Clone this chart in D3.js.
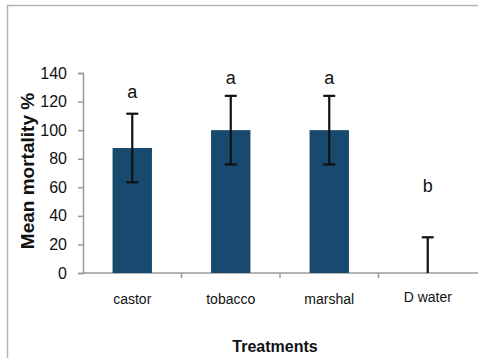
<!DOCTYPE html>
<html>
<head>
<meta charset="utf-8">
<script src="https://cdn.jsdelivr.net/npm/d3@7"></script>
<style>
  html, body { margin: 0; padding: 0; background: #fff; }
  svg { display: block; }
</style>
</head>
<body>
<svg id="chart" width="478" height="358"></svg>
<script>
// Mean mortality per treatment, with standard error and significance letters
const categories = ["castor", "tobacco", "marshal", "D water"];
const means = [87.5, 100, 100, 0];
const errors = [24, 24, 24, 25];
const letters = ["a", "a", "a", "b"];
const letterLevels = [122.5, 132.5, 132.5, 56.5];
const yTicks = [0, 20, 40, 60, 80, 100, 120, 140];

const svg = d3.select("#chart");
const W = 478, H = 358;
const margin = { left: 83, right: 1, top: 73, bottom: 85 };

// outer frame
svg.append("path")
  .attr("d", `M7.5,${H} V5.5 H${W}`)
  .attr("fill", "none").attr("stroke", "#b4b4b4").attr("stroke-width", 1.5);

const x = d3.scaleBand()
  .domain(categories)
  .range([margin.left, W - margin.right])
  .paddingInner(0.6).paddingOuter(0.3);

const y = d3.scaleLinear().domain([0, 140]).range([H - margin.bottom, margin.top]);

const axisColor = "#9a9a9a";
const font = "'Liberation Sans', Arial, sans-serif";

// y axis
const yAxis = svg.append("g")
  .attr("transform", `translate(${margin.left},0)`)
  .call(d3.axisLeft(y).tickValues(yTicks).tickSize(5).tickPadding(11).tickFormat(d3.format("d")));
yAxis.select(".domain").attr("stroke", axisColor).attr("stroke-width", 1.5);
yAxis.selectAll(".tick line").attr("stroke", axisColor).attr("stroke-width", 1.5);
yAxis.selectAll(".tick text")
  .attr("font-family", font).attr("font-size", 16).attr("fill", "#111");

// x axis: ticks at category boundaries
const x0 = margin.left;
svg.append("line")
  .attr("x1", x0).attr("x2", W)
  .attr("y1", y(0)).attr("y2", y(0))
  .attr("stroke", axisColor).attr("stroke-width", 1.5);
const bounds = d3.range(1, categories.length).map(i => x0 + (W - margin.right - x0) * i / categories.length);
svg.selectAll(".xtick").data(bounds).join("line")
  .attr("x1", d => d).attr("x2", d => d)
  .attr("y1", y(0)).attr("y2", y(0) + 5)
  .attr("stroke", axisColor).attr("stroke-width", 1.5);

// category labels
svg.selectAll(".cat").data(categories).join("text")
  .attr("x", d => x(d) + x.bandwidth() / 2)
  .attr("y", (d, i) => i === 3 ? 302 : 304)
  .attr("text-anchor", "middle")
  .attr("font-family", font).attr("font-size", 14).attr("fill", "#111")
  .text(d => d);

// bars
const barColor = "#174a6e";
svg.selectAll(".bar").data(means).join("rect")
  .attr("x", (d, i) => x(categories[i]))
  .attr("width", x.bandwidth())
  .attr("y", d => y(d))
  .attr("height", d => y(0) - y(d))
  .attr("fill", barColor);

// error bars
const eb = svg.selectAll(".err").data(means).join("g")
  .attr("transform", (d, i) => `translate(${x(categories[i]) + x.bandwidth() / 2},0)`);
eb.append("line")
  .attr("x1", 0).attr("x2", 0)
  .attr("y1", (d, i) => y(d + errors[i]))
  .attr("y2", (d, i) => y(Math.max(0, d - errors[i])))
  .attr("stroke", "#111").attr("stroke-width", 2.2);
eb.append("line")
  .attr("x1", -6).attr("x2", 6)
  .attr("y1", (d, i) => y(d + errors[i])).attr("y2", (d, i) => y(d + errors[i]))
  .attr("stroke", "#111").attr("stroke-width", 2.2);
eb.filter(d => d > 0).append("line")
  .attr("x1", -6).attr("x2", 6)
  .attr("y1", (d, i) => y(d - errors[i])).attr("y2", (d, i) => y(d - errors[i]))
  .attr("stroke", "#111").attr("stroke-width", 2.2);

// significance letters
svg.selectAll(".letter").data(letters).join("text")
  .attr("x", (d, i) => x(categories[i]) + x.bandwidth() / 2)
  .attr("y", (d, i) => y(letterLevels[i]))
  .attr("text-anchor", "middle")
  .attr("font-family", font).attr("font-size", 18).attr("fill", "#111")
  .text(d => d);

// axis titles
svg.append("text")
  .attr("transform", `translate(34,171) rotate(-90)`)
  .attr("text-anchor", "middle")
  .attr("font-family", font).attr("font-weight", "bold").attr("font-size", 19).attr("fill", "#111")
  .text("Mean mortality %");
svg.append("text")
  .attr("x", 275).attr("y", 352)
  .attr("text-anchor", "middle")
  .attr("font-family", font).attr("font-weight", "bold").attr("font-size", 16).attr("fill", "#111")
  .text("Treatments");
</script>
</body>
</html>
